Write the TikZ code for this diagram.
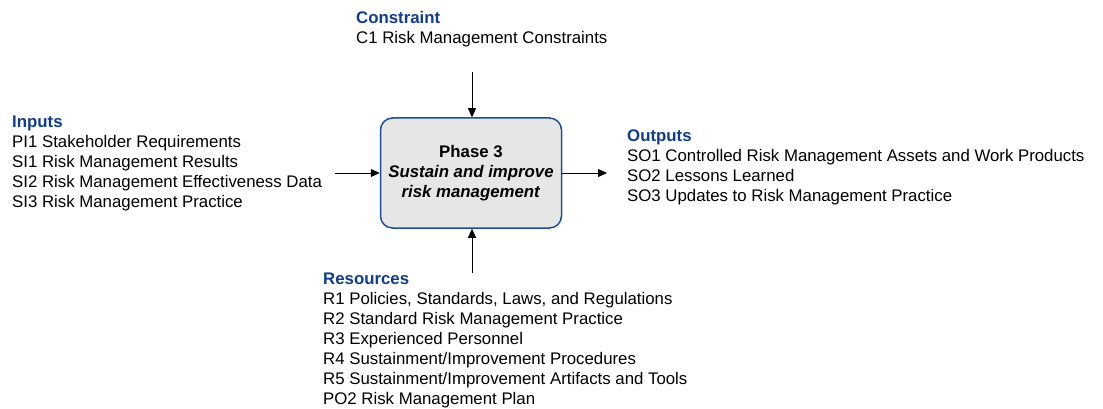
\documentclass[tikz,border=0pt]{standalone}
\usepackage{fontspec}
\setmainfont{Liberation Sans}
\usetikzlibrary{arrows.meta}

\definecolor{headblue}{RGB}{16,60,140}
\definecolor{boxblue}{RGB}{31,78,153}
\definecolor{boxgray}{RGB}{230,230,230}

\newcommand{\head}[1]{{\color{headblue}\bfseries #1}}

\begin{document}
\begin{tikzpicture}[
    x=1pt, y=-1pt,
    >={Triangle[length=9pt,width=8pt]},
    txt/.style   = {anchor=north west, inner sep=0, align=left,
                    font=\fontsize{16.8}{20}\selectfont},
    phase/.style = {draw=boxblue, line width=1.5pt, fill=boxgray,
                    rounded corners=12pt, minimum width=181pt,
                    minimum height=110pt, align=center,
                    font=\fontsize{16.8}{20}\selectfont\bfseries},
    flow/.style  = {->, line width=0.8pt},
  ]
	\useasboundingbox (0,0) rectangle (1103,409);
	
	% Prozess in der Mitte
	\node (P3) at (471,173) [phase]
		{Phase 3\\ \textit{Sustain and improve}\\ \textit{risk management}};
	
	% Texte rundherum
	\node (C) at (356,11) [txt]
		{\head{Constraint}\\ C1 Risk Management Constraints};
	\node (I) at (12,116) [txt]
		{\head{Inputs}\\ PI1 Stakeholder Requirements\\ SI1 Risk Management Results\\
		 SI2 Risk Management Effectiveness Data\\ SI3 Risk Management Practice};
	\node (O) at (627,130) [txt]
		{\head{Outputs}\\ SO1 Controlled Risk Management Assets and Work Products\\
		 SO2 Lessons Learned\\ SO3 Updates to Risk Management Practice};
	\node (R) at (323,273) [txt]
		{\head{Resources}\\ R1 Policies, Standards, Laws, and Regulations\\
		 R2 Standard Risk Management Practice\\ R3 Experienced Personnel\\
		 R4 Sustainment/Improvement Procedures\\
		 R5 Sustainment/Improvement Artifacts and Tools\\ PO2 Risk Management Plan};
	
	% freie Pfeilenden
	\coordinate (Ctop) at (472,72);
	\coordinate (Iin)  at (335,173);
	\coordinate (Oout) at (607,173);
	\coordinate (Rbot) at (472,273);
	
	% Pfeile
	\draw[flow] (Ctop) -- (Ctop |- P3.north);
	\draw[flow] (Iin) -- (P3.west);
	\draw[flow] (P3.east) -- (Oout);
	\draw[flow] (Rbot) -- (Rbot |- P3.south);
\end{tikzpicture}
\end{document}
